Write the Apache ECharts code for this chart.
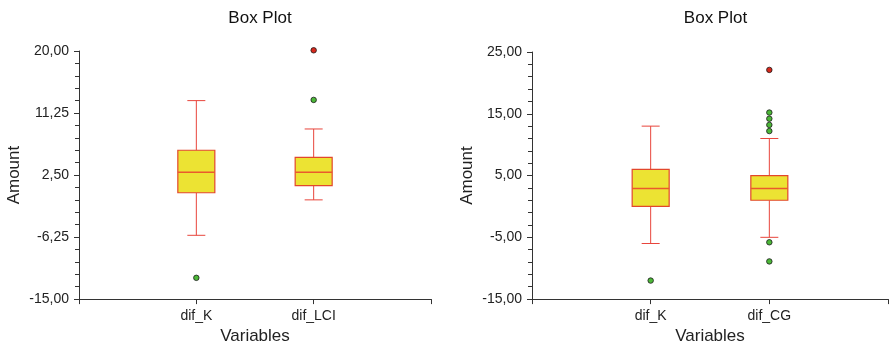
<!DOCTYPE html>
<html>
<head>
<meta charset="utf-8">
<script src="https://cdn.jsdelivr.net/npm/echarts@6/dist/echarts.min.js"></script>
<style>
  html, body { margin: 0; padding: 0; background: #fff; }
  #main { width: 891px; height: 350px; }
</style>
</head>
<body>
<div id="main"></div>
<script>
// left panel
const categoriesL = ['', 'dif_K', 'dif_LCI', ''];
// [min, Q1, median, Q3, max]
const boxL = [[-6, 0, 2.9, 6, 13], [-1, 1, 2.9, 5, 9]];
const outliersL = [[1, -12], [2, 13.1]];
const extremesL = [[2, 20.1]];
const ticksL = [-15, -6.25, 2.5, 11.25, 20];

// right panel
const categoriesR = ['', 'dif_K', 'dif_CG', ''];
const boxR = [[-6, 0, 2.9, 6, 13], [-5, 1, 2.9, 5, 11]];
const outliersR = [[1, -12], [2, -5.8], [2, -8.9], [2, 12.2], [2, 13.2], [2, 14.2], [2, 15.2]];
const extremesR = [[2, 22.1]];
const ticksR = [-15, -5, 5, 15, 25];

const FONT = '"Liberation Sans", Arial, sans-serif';
const AXIS_COLOR = '#333';
const BOX_W = 37, CAP_W = 18;

function fmt(v) {
	return v.toFixed(2).replace('.', ',');
}

// custom box: whiskers with short caps, box, median
function renderBox(params, api) {
	const x = api.value(0);
	const pMin = api.coord([x, api.value(1)]);
	const pQ1 = api.coord([x, api.value(2)]);
	const pMed = api.coord([x, api.value(3)]);
	const pQ3 = api.coord([x, api.value(4)]);
	const pMax = api.coord([x, api.value(5)]);
	const cx = pMed[0];
	const line = { stroke: '#e8453c', lineWidth: 1 };
	return {
		type: 'group',
		children: [
			{ type: 'line', shape: { x1: cx, y1: pMax[1], x2: cx, y2: pQ3[1] }, style: line },
			{ type: 'line', shape: { x1: cx, y1: pQ1[1], x2: cx, y2: pMin[1] }, style: line },
			{ type: 'line', shape: { x1: cx - CAP_W / 2, y1: pMax[1], x2: cx + CAP_W / 2, y2: pMax[1] }, style: line },
			{ type: 'line', shape: { x1: cx - CAP_W / 2, y1: pMin[1], x2: cx + CAP_W / 2, y2: pMin[1] }, style: line },
			{ type: 'rect', shape: { x: cx - BOX_W / 2, y: pQ3[1], width: BOX_W, height: pQ1[1] - pQ3[1] },
			  style: { fill: '#ece333', stroke: '#e2472c', lineWidth: 1.2 } },
			{ type: 'line', shape: { x1: cx - BOX_W / 2, y1: pMed[1], x2: cx + BOX_W / 2, y2: pMed[1] },
			  style: { stroke: '#ea5a2c', lineWidth: 1.5 } }
		]
	};
}

function panel(idx, cats, boxes, outs, extremes, ticks, grid) {
	const step = ticks[1] - ticks[0];
	return {
		title: {
			text: 'Box Plot',
			left: grid.left + grid.width / 2, top: 5, textAlign: 'center',
			textStyle: { fontFamily: FONT, fontSize: 17, fontWeight: 'normal', color: '#111' }
		},
		grid: { left: grid.left, top: grid.top, width: grid.width, height: grid.height },
		xAxis: {
			type: 'category', gridIndex: idx, data: cats, boundaryGap: false,
			name: 'Variables', nameLocation: 'middle', nameGap: 24,
			nameTextStyle: { fontFamily: FONT, fontSize: 17, color: '#222' },
			axisLine: { onZero: false, lineStyle: { color: AXIS_COLOR } },
			axisTick: { alignWithLabel: true, length: 5, lineStyle: { color: AXIS_COLOR } },
			axisLabel: { fontFamily: FONT, fontSize: 14, color: '#222', margin: 10, interval: 0 },
			splitLine: { show: false }
		},
		yAxis: {
			type: 'value', gridIndex: idx,
			min: ticks[0], max: ticks[ticks.length - 1], interval: step,
			name: 'Amount', nameLocation: 'middle', nameGap: 56,
			nameTextStyle: { fontFamily: FONT, fontSize: 17, color: '#222' },
			axisLine: { show: true, onZero: false, lineStyle: { color: AXIS_COLOR } },
			axisTick: { show: true, length: 5, lineStyle: { color: AXIS_COLOR } },
			minorTick: { show: true, splitNumber: 5, length: 4, lineStyle: { color: AXIS_COLOR } },
			axisLabel: { fontFamily: FONT, fontSize: 14, color: '#222', margin: 10, formatter: fmt },
			splitLine: { show: false }
		},
		series: [
			{
				type: 'custom', xAxisIndex: idx, yAxisIndex: idx,
				renderItem: renderBox, clip: false,
				encode: { x: 0, y: [1, 2, 3, 4, 5] },
				data: boxes.map((b, i) => [i + 1].concat(b))
			},
			{
				type: 'scatter', xAxisIndex: idx, yAxisIndex: idx,
				symbolSize: 5.5, clip: false,
				itemStyle: { color: '#4cb838', borderColor: '#1a1a1a', borderWidth: 0.8, opacity: 1 },
				data: outs
			},
			{
				type: 'scatter', xAxisIndex: idx, yAxisIndex: idx,
				symbolSize: 5.5, clip: false,
				itemStyle: { color: '#d8281c', borderColor: '#1a1a1a', borderWidth: 0.8, opacity: 1 },
				data: extremes
			}
		]
	};
}

const p1 = panel(0, categoriesL, boxL, outliersL, extremesL, ticksL, { left: 79, top: 51, width: 352, height: 257 });
const p2 = panel(1, categoriesR, boxR, outliersR, extremesR, ticksR, { left: 532, top: 52, width: 357, height: 256 });

const chart = echarts.init(document.getElementById('main'));
chart.setOption({
	animation: false,
	backgroundColor: '#fff',
	title: [p1.title, p2.title],
	grid: [p1.grid, p2.grid],
	xAxis: [p1.xAxis, p2.xAxis],
	yAxis: [p1.yAxis, p2.yAxis],
	series: p1.series.concat(p2.series)
});
</script>
</body>
</html>
